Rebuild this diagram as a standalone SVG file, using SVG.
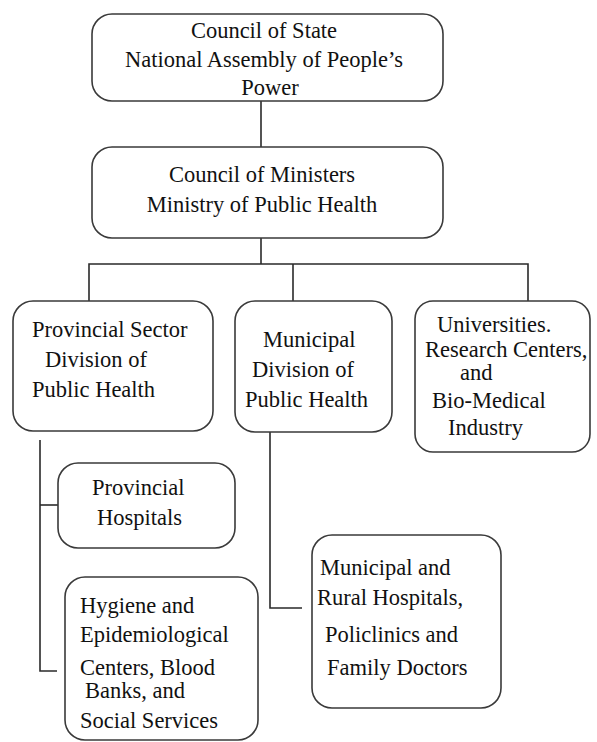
<svg xmlns="http://www.w3.org/2000/svg" width="597" height="742" viewBox="0 0 597 742">
<style>
.box{fill:#fff;stroke:#3a3a3a;stroke-width:1.6}
.ln{fill:none;stroke:#2a2a2a;stroke-width:1.6}
text{font-size:22.5px;fill:#111}
.c{text-anchor:middle}
</style>
<rect width="597" height="742" fill="#fff"/>
<g id="connectors">
<path class="ln" d="M261 101V147"/>
<path class="ln" d="M261 238V264"/>
<path class="ln" d="M89 301V264H528V301"/>
<path class="ln" d="M293 264V301"/>
<path class="ln" d="M40 440V671H57"/>
<path class="ln" d="M40 505H58"/>
<path class="ln" d="M270 432V608H302"/>
</g>
<g font-family="Liberation Serif, Tinos, Times New Roman, Noto Serif, DejaVu Serif, serif">
<g id="council-state">
<rect class="box" x="92" y="14" width="351" height="87" rx="20"/>
<text class="c" x="264" y="38">Council of State</text>
<text class="c" x="264" y="67">National Assembly of People’s</text>
<text class="c" x="270" y="95">Power</text>
</g>
<g id="council-ministers">
<rect class="box" x="92" y="147" width="351" height="91" rx="20"/>
<text class="c" x="262" y="182">Council of Ministers</text>
<text class="c" x="262" y="212">Ministry of Public Health</text>
</g>
<g id="provincial-sector">
<rect class="box" x="13" y="301" width="200" height="130" rx="20"/>
<text x="32" y="337">Provincial Sector</text>
<text x="45" y="367">Division of</text>
<text x="32" y="397">Public Health</text>
</g>
<g id="municipal-division">
<rect class="box" x="235" y="301" width="157" height="131" rx="20"/>
<text x="263" y="347">Municipal</text>
<text x="252" y="377">Division of</text>
<text x="245" y="407">Public Health</text>
</g>
<g id="universities">
<rect class="box" x="415" y="301" width="175" height="151" rx="18"/>
<text x="437" y="332">Universities.</text>
<text x="425" y="357">Research Centers,</text>
<text x="460" y="380">and</text>
<text x="432" y="408">Bio-Medical</text>
<text x="448" y="435">Industry</text>
</g>
<g id="provincial-hospitals">
<rect class="box" x="58" y="463" width="177" height="85" rx="20"/>
<text x="92" y="495">Provincial</text>
<text x="97" y="525">Hospitals</text>
</g>
<g id="hygiene">
<rect class="box" x="65" y="577" width="193" height="163" rx="20"/>
<text x="80" y="613">Hygiene and</text>
<text x="80" y="642">Epidemiological</text>
<text x="80" y="675">Centers, Blood</text>
<text x="85" y="698">Banks,  and</text>
<text x="80" y="728">Social Services</text>
</g>
<g id="municipal-hospitals">
<rect class="box" x="312" y="535" width="189" height="173" rx="20"/>
<text x="320" y="575">Municipal and</text>
<text x="317" y="605">Rural Hospitals,</text>
<text x="325" y="642">Policlinics and</text>
<text x="327" y="675">Family Doctors</text>
</g>
</g>
</svg>
